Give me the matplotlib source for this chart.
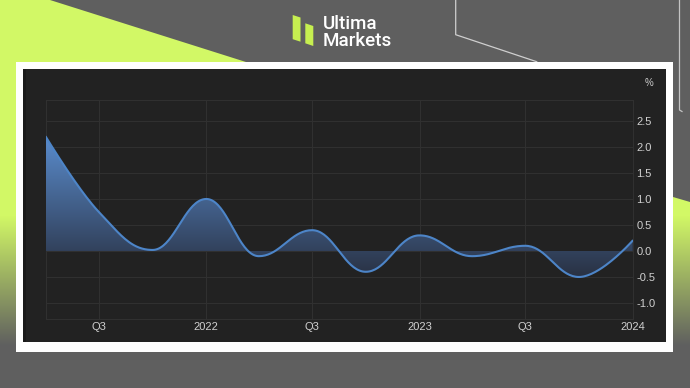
import numpy as np
import matplotlib
matplotlib.use("Agg")
import matplotlib.pyplot as plt
import matplotlib.dates as mdates
from matplotlib.patches import Rectangle, Polygon

plt.rcParams["font.family"] = ["Liberation Sans", "DejaVu Sans"]

# quarterly values (%)
quarters = ["2021-04-01", "2021-07-01", "2021-10-01", "2022-01-01", "2022-04-01", "2022-07-01",
            "2022-10-01", "2023-01-01", "2023-04-01", "2023-07-01", "2023-10-01", "2024-01-01"]
values = [2.2, 0.75, 0.02, 1.0, -0.1, 0.4, -0.4, 0.3, -0.1, 0.1, -0.5, 0.2]

tick_dates = ["2021-07-01", "2022-01-01", "2022-07-01", "2023-01-01", "2023-07-01", "2024-01-01"]
tick_labels = ["Q3", "2022", "Q3", "2023", "Q3", "2024"]
y_ticks = [-1.0, -0.5, 0.0, 0.5, 1.0, 1.5, 2.0, 2.5]

LIME = np.array([210, 248, 102]) / 255
GREY = np.array([95, 95, 95]) / 255


def spline(xs, ys, n=40):
    # smoothing like the Highcharts "spline" series
    sm, den = 1.5, 2.5
    N = len(xs)
    lc, rc = [None] * N, [None] * N
    for i in range(1, N - 1):
        px, py = xs[i], ys[i]
        lx, ly = xs[i - 1], ys[i - 1]
        nx, ny = xs[i + 1], ys[i + 1]
        lcx, lcy = (sm * px + lx) / den, (sm * py + ly) / den
        rcx, rcy = (sm * px + nx) / den, (sm * py + ny) / den
        corr = (rcy - lcy) * (rcx - px) / (rcx - lcx) + py - rcy
        lcy += corr
        rcy += corr
        if lcy > ly and lcy > py:
            lcy = max(ly, py); rcy = 2 * py - lcy
        elif lcy < ly and lcy < py:
            lcy = min(ly, py); rcy = 2 * py - lcy
        if rcy > ny and rcy > py:
            rcy = max(ny, py); lcy = 2 * py - rcy
        elif rcy < ny and rcy < py:
            rcy = min(ny, py); lcy = 2 * py - rcy
        lc[i] = (lcx, lcy)
        rc[i] = (rcx, rcy)
    t = np.linspace(0, 1, n)[:, None]
    out = [np.array([[xs[0], ys[0]]])]
    for i in range(1, N):
        p0 = np.array([xs[i - 1], ys[i - 1]])
        p3 = np.array([xs[i], ys[i]])
        p1 = np.array(rc[i - 1]) if rc[i - 1] else p0
        p2 = np.array(lc[i]) if lc[i] else p3
        seg = (1 - t) ** 3 * p0 + 3 * (1 - t) ** 2 * t * p1 + 3 * (1 - t) * t ** 2 * p2 + t ** 3 * p3
        out.append(seg[1:])
    pts = np.vstack(out)
    return pts[:, 0], pts[:, 1]


fig = plt.figure(figsize=(6.9, 3.88), dpi=100)

# ---- background artwork (pixel coordinates) ----
bg = fig.add_axes([0, 0, 1, 1], zorder=0)
bg.set_xlim(0, 690)
bg.set_ylim(388, 0)
bg.axis("off")
bg.add_patch(Rectangle((0, 0), 690, 388, fc="#5f5f5f", ec="none"))

rows = np.arange(388)
tt = np.clip((rows - 215) / 130, 0, 1)[:, None]
grad = (LIME * (1 - tt) + GREY * tt)[:, None, :]
for verts in ([(0, 0), (50, 0), (245, 61.7), (275, 71), (275, 388), (0, 388)],
              [(600, 175.5), (690, 202), (690, 388), (600, 388)]):
    im = bg.imshow(grad, extent=(0, 690, 388, 0), aspect="auto", zorder=1)
    clip = Polygon(verts, closed=True, transform=bg.transData, fc="none", ec="none")
    bg.add_patch(clip)
    im.set_clip_path(clip)
bg.set_xlim(0, 690)
bg.set_ylim(388, 0)

bg.plot([455.7, 455.7, 536.7], [0, 34.7, 61.7], color="#cfcfcf", lw=0.9, zorder=2)
bg.plot([679.5, 679.5, 682], [0, 110, 111.5], color="#c4c4c4", lw=0.9, zorder=2)

bg.add_patch(Rectangle((16, 61.7), 657, 290, fc="white", ec="none", zorder=3))
bg.add_patch(Rectangle((23.3, 69.3), 642.7, 272.4, fc="#222222", ec="none", zorder=4))
bg.add_patch(Rectangle((23.3, 69.3), 3, 272.4, fc="#1b1b1b", ec="none", zorder=4))

# logo
bg.add_patch(Polygon([(292.7, 15), (300.5, 17.5), (300.5, 41.7), (292.7, 39.2)], fc="#c6ef50", ec="none", zorder=3))
bg.add_patch(Polygon([(305.3, 23.3), (313.3, 26), (313.3, 46), (305.3, 43.3)], fc="#c6ef50", ec="none", zorder=3))
bg.text(322.5, 29.3, "Ultima", color="white", fontsize=13.5, family=["Roboto", "DejaVu Sans"],
        fontweight="medium", va="baseline", ha="left", zorder=3)
bg.text(322.5, 46, "Markets", color="white", fontsize=13.5, family=["Roboto", "DejaVu Sans"],
        fontweight="medium", va="baseline", ha="left", zorder=3)

# ---- chart ----
ax = fig.add_axes([45.7 / 690, 1 - 319 / 388, 587 / 690, 219.5 / 388], zorder=2)
ax.set_facecolor("none")

xd = mdates.date2num(np.array(quarters, dtype="datetime64[D]"))
sx, sy = spline(list(xd), values)

ax.plot(sx, sy, color="#4d85c8", lw=1.5, zorder=4, solid_capstyle="round")

poly = Polygon(np.column_stack([np.r_[sx, sx[-1], sx[0]], np.r_[sy, 0, 0]]),
               closed=True, fc="none", ec="none", transform=ax.transData)
ax.add_patch(poly)
top_c = np.array([90, 140, 206]) / 255
bot_c = np.array([41, 49, 66]) / 255
g = np.linspace(0, 1, 256)[:, None]
fill_grad = (bot_c * (1 - g) + top_c * g)[:, None, :]
fim = ax.imshow(fill_grad, extent=(xd[0], xd[-1], -0.5, 2.2), origin="lower",
                aspect="auto", zorder=3)
fim.set_clip_path(poly)

ax.set_xlim(xd[0], xd[-1])
ax.set_ylim(-1.308, 2.913)

ax.set_xticks(mdates.date2num(np.array(tick_dates, dtype="datetime64[D]")))
ax.set_xticklabels(tick_labels)
ax.set_yticks(y_ticks)
ax.set_yticklabels([f"{v:.1f}" for v in y_ticks])
ax.yaxis.tick_right()
ax.tick_params(axis="x", length=0, pad=2, labelsize=8, labelcolor="#d0d0d0")
ax.tick_params(axis="y", length=0, pad=2.7, labelsize=8, labelcolor="#d0d0d0")
ax.grid(True, color="#303030", lw=0.8, zorder=0)
for s in ax.spines.values():
    s.set_color("#303030")
    s.set_linewidth(0.8)

fig.text(649 / 690, 1 - 82.7 / 388, "%", ha="center", va="center", fontsize=7, color="#cccccc")

fig.savefig("out.png", dpi=100)
